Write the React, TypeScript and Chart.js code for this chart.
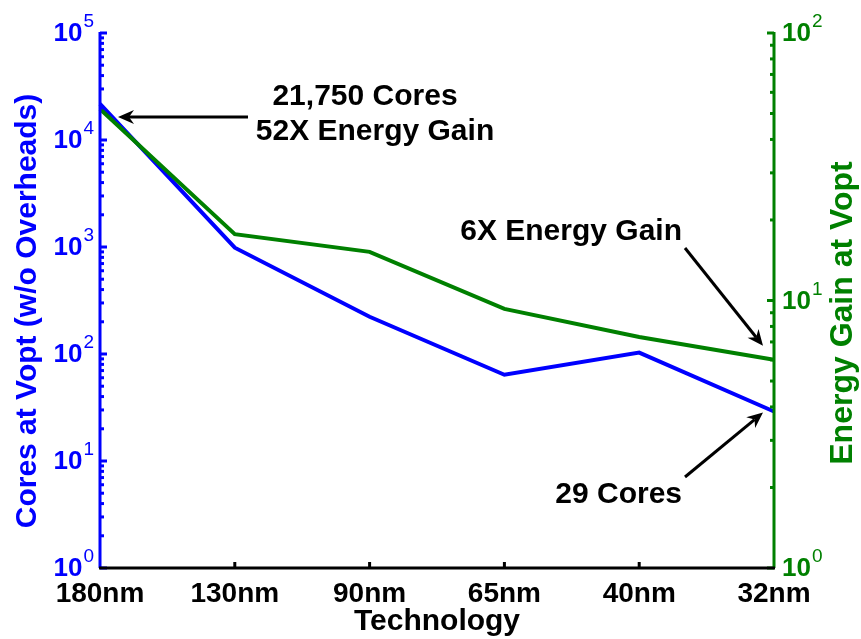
import React, { useEffect, useRef } from "react";
import { Chart, registerables } from "chart.js";

Chart.register(...registerables);

// Process nodes along the x axis
const technologies = ["180nm", "130nm", "90nm", "65nm", "40nm", "32nm"];
// Number of cores at the optimal supply voltage (left, log scale)
const coresAtVopt = [21750, 985, 223, 64, 103, 29];
// Energy gain at the optimal supply voltage (right, log scale)
const energyGain = [52, 17.7, 15.2, 9.3, 7.3, 6];
// Decade exponents shown on each log axis
const coresDecades = [0, 1, 2, 3, 4, 5];
const gainDecades = [0, 1, 2];

const BLUE = "#0000ff";
const GREEN = "#008000";
const BLACK = "#000000";
const FONT = '"Liberation Sans", Arial, Helvetica, sans-serif';

function line(ctx: CanvasRenderingContext2D, x1: number, y1: number, x2: number, y2: number) {
  ctx.beginPath();
  ctx.moveTo(x1, y1);
  ctx.lineTo(x2, y2);
  ctx.stroke();
}

function arrow(ctx: CanvasRenderingContext2D, x1: number, y1: number, x2: number, y2: number) {
  const ang = Math.atan2(y2 - y1, x2 - x1);
  const len = 16;
  const half = 7;
  const notch = 11;
  const bx = x2 - len * Math.cos(ang);
  const by = y2 - len * Math.sin(ang);
  const nx = x2 - notch * Math.cos(ang);
  const ny = y2 - notch * Math.sin(ang);
  ctx.strokeStyle = BLACK;
  ctx.fillStyle = BLACK;
  ctx.lineWidth = 3;
  line(ctx, x1, y1, nx, ny);
  ctx.beginPath();
  ctx.moveTo(x2, y2);
  ctx.lineTo(bx - half * Math.sin(ang), by + half * Math.cos(ang));
  ctx.lineTo(nx, ny);
  ctx.lineTo(bx + half * Math.sin(ang), by - half * Math.cos(ang));
  ctx.closePath();
  ctx.fill();
}

// Draws "10" with a raised exponent; side says which way the label grows from x
function powerLabel(ctx: CanvasRenderingContext2D, exp: number, x: number, y: number, side: "left" | "right", color: string) {
  ctx.fillStyle = color;
  ctx.textBaseline = "middle";
  ctx.font = `bold 26px ${FONT}`;
  const base = "10";
  const bw = ctx.measureText(base).width;
  ctx.font = `19px ${FONT}`;
  const ew = ctx.measureText(String(exp)).width;
  const bx = side === "left" ? x - bw - ew : x;
  ctx.font = `bold 26px ${FONT}`;
  ctx.textAlign = "left";
  ctx.fillText(base, bx, y + 1);
  ctx.font = `19px ${FONT}`;
  ctx.textBaseline = "alphabetic";
  ctx.fillText(String(exp), bx + bw + 1, y - 6);
}

const axesPlugin = {
  id: "matlabAxes",
  afterDraw(chart: any) {
    const { ctx, chartArea: a, scales } = chart;
    const xs = scales.x;
    const yl = scales.yCores;
    const yr = scales.yGain;
    ctx.save();
    ctx.lineCap = "butt";

    // Left (cores) axis
    ctx.strokeStyle = BLUE;
    ctx.lineWidth = 3;
    line(ctx, a.left, a.top - 1, a.left, a.bottom);
    coresDecades.forEach((k) => {
      const py = yl.getPixelForValue(Math.pow(10, k));
      line(ctx, a.left, py, a.left + 7, py);
      if (k < coresDecades[coresDecades.length - 1]) {
        for (let m = 2; m <= 9; m++) {
          const my = yl.getPixelForValue(m * Math.pow(10, k));
          line(ctx, a.left, my, a.left + 4, my);
        }
      }
      powerLabel(ctx, k, a.left - 7, py, "left", BLUE);
    });

    // Right (energy gain) axis
    ctx.strokeStyle = GREEN;
    ctx.lineWidth = 3;
    line(ctx, a.right, a.top - 1, a.right, a.bottom);
    gainDecades.forEach((k) => {
      const py = yr.getPixelForValue(Math.pow(10, k));
      line(ctx, a.right, py, a.right - 7, py);
      if (k < gainDecades[gainDecades.length - 1]) {
        for (let m = 2; m <= 9; m++) {
          const my = yr.getPixelForValue(m * Math.pow(10, k));
          line(ctx, a.right, my, a.right - 4, my);
        }
      }
      powerLabel(ctx, k, a.right + 8, py, "right", GREEN);
    });

    // Bottom (technology) axis
    ctx.strokeStyle = BLACK;
    ctx.lineWidth = 3;
    line(ctx, a.left - 1, a.bottom, a.right + 1, a.bottom);
    ctx.fillStyle = BLACK;
    ctx.font = `bold 28px ${FONT}`;
    ctx.textAlign = "center";
    ctx.textBaseline = "alphabetic";
    technologies.forEach((t, i) => {
      const px = xs.getPixelForValue(i);
      if (i > 0 && i < technologies.length - 1) line(ctx, px, a.bottom, px, a.bottom - 6);
      ctx.fillText(t, px, a.bottom + 34);
    });

    // Axis titles
    ctx.font = `bold 30px ${FONT}`;
    ctx.fillStyle = BLACK;
    ctx.fillText("Technology", (a.left + a.right) / 2, a.bottom + 62);

    ctx.save();
    ctx.translate(36, 311);
    ctx.rotate(-Math.PI / 2);
    ctx.fillStyle = BLUE;
    ctx.fillText("Cores at Vopt (w/o Overheads)", 0, 0);
    ctx.restore();

    ctx.save();
    ctx.font = `bold 32px ${FONT}`;
    ctx.translate(852, 313);
    ctx.rotate(-Math.PI / 2);
    ctx.fillStyle = GREEN;
    ctx.fillText("Energy Gain at Vopt", 0, 0);
    ctx.restore();

    // Annotations
    const first = { x: xs.getPixelForValue(0), y: yl.getPixelForValue(coresAtVopt[0]) };
    const last = technologies.length - 1;
    const lastGain = { x: xs.getPixelForValue(last), y: yr.getPixelForValue(energyGain[last]) };
    const lastCores = { x: xs.getPixelForValue(last), y: yl.getPixelForValue(coresAtVopt[last]) };

    ctx.fillStyle = BLACK;
    ctx.font = `bold 30px ${FONT}`;
    ctx.textAlign = "center";
    ctx.fillText("21,750 Cores", 365, 105);
    ctx.fillText("52X Energy Gain", 375, 140);
    arrow(ctx, 248, first.y + 13, first.x + 18, first.y + 13);

    ctx.textAlign = "right";
    ctx.fillText("6X Energy Gain", 682, 240);
    arrow(ctx, 685, 248, lastGain.x - 11, lastGain.y - 14);

    ctx.fillText("29 Cores", 682, 503);
    arrow(ctx, 685, 477, lastCores.x - 11, lastCores.y + 1);

    ctx.restore();
  },
};

export default function App() {
  const canvasRef = useRef<HTMLCanvasElement | null>(null);

  useEffect(() => {
    const canvas = canvasRef.current;
    if (!canvas) return;
    const chart = new Chart(canvas, {
      type: "line",
      data: {
        labels: technologies,
        datasets: [
          {
            label: "Energy Gain at Vopt",
            data: energyGain,
            yAxisID: "yGain",
            borderColor: GREEN,
            backgroundColor: GREEN,
            borderWidth: 4,
            pointRadius: 0,
            tension: 0,
            borderJoinStyle: "miter",
          },
          {
            label: "Cores at Vopt (w/o Overheads)",
            data: coresAtVopt,
            yAxisID: "yCores",
            borderColor: BLUE,
            backgroundColor: BLUE,
            borderWidth: 4,
            pointRadius: 0,
            tension: 0,
            borderJoinStyle: "miter",
          },
        ],
      },
      options: {
        responsive: false,
        animation: false,
        devicePixelRatio: 1,
        layout: { padding: { left: 100, right: 87, top: 33, bottom: 71 } },
        plugins: { legend: { display: false }, tooltip: { enabled: false } },
        scales: {
          x: { type: "category", display: false, offset: false },
          yCores: { type: "logarithmic", position: "left", min: 1, max: 100000, display: false },
          yGain: { type: "logarithmic", position: "right", min: 1, max: 100, display: false },
        },
      },
      plugins: [axesPlugin],
    });
    return () => chart.destroy();
  }, []);

  return (
    <div style={{ position: "absolute", left: 0, top: 0, width: 861, height: 639, background: "#fff" }}>
      <canvas ref={canvasRef} width={861} height={639} style={{ display: "block" }} />
    </div>
  );
}
